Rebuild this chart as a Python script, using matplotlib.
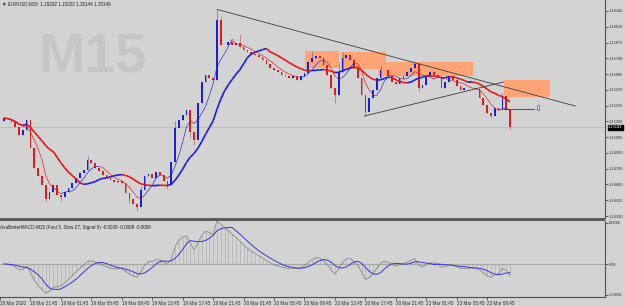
import numpy as np
import pandas as pd
import matplotlib
matplotlib.use("Agg")
import matplotlib.pyplot as plt
from matplotlib.collections import LineCollection
from matplotlib.patches import Rectangle
import matplotlib.transforms as mtransforms

plt.rcParams['font.family'] = ['Liberation Sans', 'DejaVu Sans']

# EURUSD closes, one value per 30 min
closes = [1.15229, 1.15220, 1.15195, 1.15152, 1.15083, 1.15126, 1.15212, 1.14972,
          1.14801, 1.14732, 1.14655, 1.14536, 1.14596, 1.14655, 1.14570, 1.14553,
          1.14596, 1.14630, 1.14673, 1.14715, 1.14758, 1.14784, 1.14869, 1.14844,
          1.14801, 1.14775, 1.14741, 1.14715, 1.14698, 1.14681, 1.14690, 1.14673,
          1.14587, 1.14536, 1.14493, 1.14467, 1.14613, 1.14732, 1.14750, 1.14715,
          1.14767, 1.14741, 1.14690, 1.14655, 1.14852, 1.15143, 1.15212, 1.15255,
          1.15297, 1.15109, 1.15041, 1.15357, 1.15537, 1.15597, 1.15571, 1.15554,
          1.16068, 1.15854, 1.15854, 1.15880, 1.15854, 1.15871, 1.15837, 1.15811,
          1.15794, 1.15777, 1.15768, 1.15751, 1.15725, 1.15691, 1.15657, 1.15640,
          1.15623, 1.15597, 1.15588, 1.15571, 1.15588, 1.15554, 1.15588, 1.15614,
          1.15708, 1.15743, 1.15760, 1.15743, 1.15683, 1.15597, 1.15486, 1.15426,
          1.15623, 1.15743, 1.15768, 1.15725, 1.15657, 1.15571, 1.15426, 1.15280,
          1.15400, 1.15469, 1.15571, 1.15640, 1.15640, 1.15588, 1.15537, 1.15520,
          1.15571, 1.15588, 1.15623, 1.15657, 1.15691, 1.15486, 1.15511, 1.15588,
          1.15623, 1.15597, 1.15580, 1.15486, 1.15537, 1.15588, 1.15554, 1.15503,
          1.15469, 1.15486, 1.15486, 1.15486, 1.15477, 1.15400, 1.15340, 1.15272,
          1.15246, 1.15315, 1.15297, 1.15417, 1.15297, 1.15149]
first_open = 1.15200
# wicks that stick out of the bodies
high_wicks = {56: 1.16150, 57: 1.16100, 62: 1.15948, 108: 1.15708, 36: 1.14650,
              45: 1.15200, 88: 1.15700, 99: 1.15680, 131: 1.15440, 22: 1.14900,
              81: 1.15800, 89: 1.15790}
low_wicks = {11: 1.14510, 35: 1.14433, 50: 1.15000, 87: 1.15357, 95: 1.15246,
             33: 1.14500, 49: 1.15060, 128: 1.15230, 133: 1.15130, 15: 1.14520,
             43: 1.14620, 109: 1.15460}

# supply zones: start bar, end bar, low, high
zones = [(79.1, 88.0, 1.15657, 1.15802),
         (88.5, 100.5, 1.15648, 1.15794),
         (98.2, 123.2, 1.15588, 1.15708),
         (131.3, 143.6, 1.15409, 1.15558)]
# trend lines: (bar, price) -> (bar, price)
trend_lines = [((56.1, 1.16158), (150.1, 1.15332)),
               ((94.8, 1.15246), (131.3, 1.15537)),
               ((131.3, 1.15306), (139.2, 1.15306))]
arrow_pos = (140.4, 1.15306)

price_ticks = [1.16145, 1.16010, 1.15875, 1.15740, 1.15605, 1.15470, 1.15335,
               1.15200, 1.15065, 1.14930, 1.14795, 1.14660, 1.14525, 1.14390]
last_price = 1.15149
time_ticks = [-1, 7, 15, 23, 31, 39, 47, 55, 63, 71, 79, 87, 95, 103, 111, 119, 127]
time_labels = ["18 Mar 2020", "18 Mar 21:45", "19 Mar 01:45", "19 Mar 05:45",
               "19 Mar 09:45", "19 Mar 13:45", "19 Mar 17:45", "19 Mar 21:45",
               "20 Mar 01:45", "20 Mar 05:45", "20 Mar 09:45", "20 Mar 13:45",
               "20 Mar 17:45", "20 Mar 21:45", "23 Mar 01:45", "23 Mar 05:45",
               "23 Mar 09:45"]
macd_ticks = [0.0048, 0.0, -0.0036]
macd_labels = ["0.0048", "0.00", "-0.0036"]

bg = '#d3d3d3'
fs = 3.3
fs_r = 2.9

n = len(closes)
x = np.arange(n)
c = np.array(closes)
o = np.concatenate([[first_open], c[:-1]])
hi = np.maximum(o, c)
lo = np.minimum(o, c)
for k, v in high_wicks.items():
    hi[k] = max(hi[k], v)
for k, v in low_wicks.items():
    lo[k] = min(lo[k], v)

fig = plt.figure(figsize=(6.25, 3.06), dpi=100, facecolor=bg)
W, H = 625, 306
right = 605
ax = fig.add_axes([0, 1 - 218 / H, right / W, 218 / H], facecolor=bg)
ax2 = fig.add_axes([0, 1 - 297 / H, right / W, 76 / H], facecolor=bg, sharex=ax)

xmax = right / 3.83
ax.set_xlim(0, xmax)
ax.set_ylim(1.14373, 1.16239)

# watermark
ax.text(38 / right, 1 - 72 / 218, "M15", transform=ax.transAxes, fontsize=40,
        fontweight='bold', color='#c6c6c6', ha='left', va='baseline', zorder=0)

# zones
for x0, x1, p0, p1 in zones:
    ax.add_patch(Rectangle((x0, p0), x1 - x0, p1 - p0, facecolor='#ffa477',
                           edgecolor='none', zorder=1))

# current price line
ax.axhline(last_price, color='#b4b4b4', lw=0.5, zorder=1)

# candles
up = c >= o
wick_col = np.where(up, '#6a6ab8', '#b86a6a')
ax.vlines(x, lo, hi, colors=wick_col, lw=0.5, zorder=2)
body_h = np.maximum(np.abs(c - o), 0.00002)
ax.bar(x[up], body_h[up], bottom=o[up], width=0.45, color='#2020c8', zorder=3)
ax.bar(x[~up], body_h[~up], bottom=c[~up], width=0.45, color='#d42020', zorder=3)

# moving averages coloured by slope
s = pd.Series(closes)
def slope_line(vals, lw, zorder):
    pts = np.column_stack([x, vals])
    segs = np.stack([pts[:-1], pts[1:]], axis=1)
    cols = ['#1e1ed0' if vals[i + 1] >= vals[i] else '#e01818' for i in range(n - 1)]
    ax.add_collection(LineCollection(segs, colors=cols, linewidths=lw, zorder=zorder))

slope_line(s.rolling(14, min_periods=1).mean().values, 1.2, 4)
slope_line(s.rolling(5, min_periods=1).mean().values, 0.45, 4)

# trend lines + arrow
for (xa, ya), (xb, yb) in trend_lines:
    ax.plot([xa, xb], [ya, yb], color='#3c3c3c', lw=0.6, zorder=5)
ax.text(arrow_pos[0], arrow_pos[1], "\u21e9", fontsize=6, color='#404040',
        family='DejaVu Sans', ha='center', va='center', zorder=5)

# header
ax.text(2 / right, 1 - 4 / 218, "\u25bc EURUSD,M15  1.15202 1.15202 1.15144 1.15149",
        transform=ax.transAxes, fontsize=fs, color='#202020', ha='left', va='center')

# right price scale
ax.yaxis.tick_right()
ax.set_yticks(price_ticks)
ax.set_yticklabels(["%.5f" % p for p in price_ticks])
ax.tick_params(axis='y', labelsize=fs_r, length=2, width=0.5, pad=0.5, colors='#303030')
ax.tick_params(axis='x', bottom=False, labelbottom=False)
for sp in ['left', 'top', 'bottom']:
    ax.spines[sp].set_visible(False)
ax.spines['right'].set_color('#505050')
ax.spines['right'].set_linewidth(0.8)
trans = mtransforms.blended_transform_factory(ax.transAxes, ax.transData)
ax.text(1.005, last_price, "%.5f" % last_price, transform=trans, fontsize=fs_r,
        color='white', ha='left', va='center',
        bbox=dict(boxstyle='square,pad=0.12', fc='black', ec='black'), zorder=6)

# MACD panel
fast = s.ewm(span=3, adjust=False).mean()
slow = s.ewm(span=17, adjust=False).mean()
macd = (fast - slow).values
signal = pd.Series(macd).rolling(5, min_periods=1).mean().values
ax2.set_ylim(-0.00386, 0.00503)
ax2.axhline(0, color='#a8a8a8', lw=0.8, zorder=1)
ax2.vlines(x, 0, macd, colors='#a6a6a6', lw=0.4, zorder=2)
ax2.plot(x, macd, color='#8a8a8a', lw=0.6, zorder=3)
ax2.plot(x, signal, color='#3a3ad0', lw=0.7, zorder=4)
ax2.text(0, 0.95, "AsaBetterMACD-M15 (Fast 5, Slow 27, Signal 9) -0.0008 -0.0008 -0.0006",
         transform=ax2.transAxes, fontsize=fs, color='#202020', ha='left', va='top')
ax2.yaxis.tick_right()
ax2.set_yticks(macd_ticks)
ax2.set_yticklabels(macd_labels)
ax2.tick_params(axis='y', labelsize=fs_r, length=2, width=0.5, pad=0.5, colors='#303030')
ax2.set_xticks(time_ticks)
ax2.set_xticklabels(time_labels)
ax2.tick_params(axis='x', labelsize=fs, length=2, width=0.5, pad=1, colors='#303030')
for lab in ax2.get_xticklabels():
    lab.set_horizontalalignment('left')
for sp in ['left', 'top']:
    ax2.spines[sp].set_visible(False)
for sp in ['right', 'bottom']:
    ax2.spines[sp].set_color('#505050')
    ax2.spines[sp].set_linewidth(0.8)

# separator between panels
fig.add_artist(Rectangle((0, 1 - 221 / H), right / W, 3 / H, transform=fig.transFigure,
                         facecolor='#5c5c5c', edgecolor='none'))

fig.savefig("out.png", dpi=100, facecolor=bg)
